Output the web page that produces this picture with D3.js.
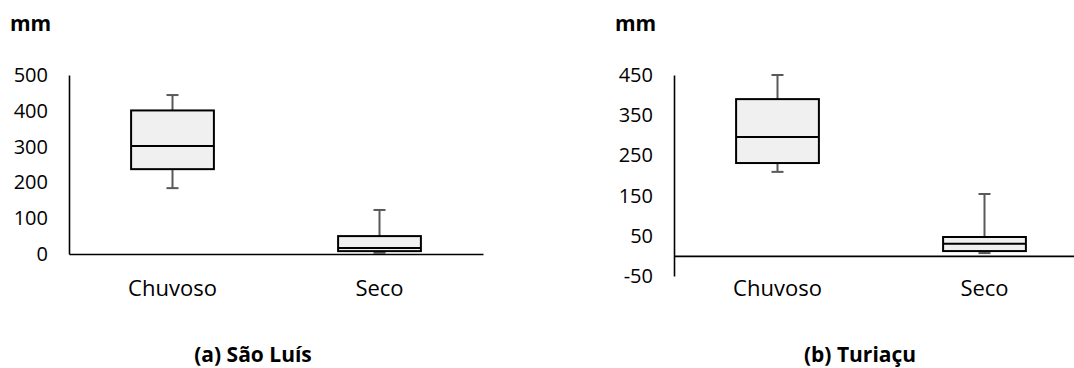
<!DOCTYPE html>
<html>
<head>
<meta charset="utf-8">
<script src="https://cdn.jsdelivr.net/npm/d3@7"></script>
<style>
  body { margin: 0; background: #fff; }
  text { font-family: "Open Sans", Lato, sans-serif; fill: #000; }
</style>
</head>
<body>
<div id="main"></div>
<script>
const categories = ['Chuvoso', 'Seco'];

// São Luís (mm)
const slMin = [184, 3];
const slQ1 = [237, 8];
const slMedian = [302, 17];
const slQ3 = [401, 50];
const slMax = [444, 123];
const slTicks = [0, 100, 200, 300, 400, 500];

// Turiaçu (mm)
const tuMin = [209, 7];
const tuQ1 = [231, 12];
const tuMedian = [296, 30];
const tuQ3 = [390, 47];
const tuMax = [450, 154];
const tuTicks = [-50, 50, 150, 250, 350, 450];

const width = 1074;
const height = 368;

const svg = d3.select('#main').append('svg')
    .attr('width', width)
    .attr('height', height);

function panel(opts) {
    const x = d3.scaleBand()
        .domain(categories)
        .range([opts.left, opts.left + 414]);
    const y = d3.scaleLinear()
        .domain(opts.domain)
        .range([opts.bottom, 75]);

    const g = svg.append('g');

    // y axis
    const yAxis = g.append('g')
        .attr('transform', `translate(${opts.left}, 0)`)
        .call(d3.axisLeft(y).tickValues(opts.ticks).tickSize(0).tickPadding(21).tickSizeOuter(0)
            .tickFormat((d) => String(d)));
    yAxis.select('.domain').attr('stroke', '#000').attr('stroke-width', 1.6);
    yAxis.selectAll('text').style('font-size', '20px').style('font-family', 'Open Sans');

    // x axis at zero
    const xAxis = g.append('g')
        .attr('transform', `translate(0, ${y(0)})`)
        .call(d3.axisBottom(x).tickSize(0).tickSizeOuter(0).tickFormat(''));
    xAxis.select('.domain').attr('stroke', '#000').attr('stroke-width', 1.6);

    // category labels
    g.selectAll('.cat')
        .data(categories)
        .enter()
        .append('text')
        .attr('class', 'cat')
        .attr('x', (d) => x(d) + x.bandwidth() / 2)
        .attr('y', 296)
        .attr('text-anchor', 'middle')
        .style('font-size', '22px')
        .text((d) => d);

    const boxW = x.bandwidth() * 0.4;
    const capW = 12;
    const rows = categories.map((c, i) => ({
        cat: c,
        min: opts.min[i], q1: opts.q1[i], med: opts.median[i], q3: opts.q3[i], max: opts.max[i]
    }));

    const box = g.selectAll('.box')
        .data(rows)
        .enter()
        .append('g');

    const cx = (d) => x(d.cat) + x.bandwidth() / 2;

    // whiskers
    box.append('line')
        .attr('x1', cx).attr('x2', cx)
        .attr('y1', (d) => y(d.q3)).attr('y2', (d) => y(d.max))
        .attr('stroke', '#595959').attr('stroke-width', 2);
    box.append('line')
        .attr('x1', cx).attr('x2', cx)
        .attr('y1', (d) => y(d.q1)).attr('y2', (d) => y(d.min))
        .attr('stroke', '#595959').attr('stroke-width', 2);
    box.append('line')
        .attr('x1', (d) => cx(d) - capW / 2).attr('x2', (d) => cx(d) + capW / 2)
        .attr('y1', (d) => y(d.max)).attr('y2', (d) => y(d.max))
        .attr('stroke', '#595959').attr('stroke-width', 2);
    box.append('line')
        .attr('x1', (d) => cx(d) - capW / 2).attr('x2', (d) => cx(d) + capW / 2)
        .attr('y1', (d) => y(d.min)).attr('y2', (d) => y(d.min))
        .attr('stroke', '#595959').attr('stroke-width', 2);

    // box
    box.append('rect')
        .attr('x', (d) => cx(d) - boxW / 2)
        .attr('width', boxW)
        .attr('y', (d) => y(d.q3))
        .attr('height', (d) => y(d.q1) - y(d.q3))
        .attr('fill', '#f0f0f0')
        .attr('stroke', '#000')
        .attr('stroke-width', 2);
    box.append('line')
        .attr('x1', (d) => cx(d) - boxW / 2).attr('x2', (d) => cx(d) + boxW / 2)
        .attr('y1', (d) => y(d.med)).attr('y2', (d) => y(d.med))
        .attr('stroke', '#000').attr('stroke-width', 2);

    // unit label
    g.append('text')
        .attr('x', opts.unitX)
        .attr('y', 31)
        .style('font-size', '21px')
        .style('font-weight', 'bold')
        .text('mm');

    // caption
    g.append('text')
        .attr('x', opts.captionX)
        .attr('y', 362)
        .attr('text-anchor', 'middle')
        .style('font-size', '21px')
        .style('font-weight', 'bold')
        .text(opts.caption);
}

panel({
    left: 69, bottom: 254, domain: [0, 500], ticks: slTicks,
    min: slMin, q1: slQ1, median: slMedian, q3: slQ3, max: slMax,
    unitX: 10, captionX: 253, caption: '(a) São Luís'
});

panel({
    left: 674, bottom: 276, domain: [-50, 450], ticks: tuTicks,
    min: tuMin, q1: tuQ1, median: tuMedian, q3: tuQ3, max: tuMax,
    unitX: 615, captionX: 860, caption: '(b) Turiaçu'
});
</script>
</body>
</html>
